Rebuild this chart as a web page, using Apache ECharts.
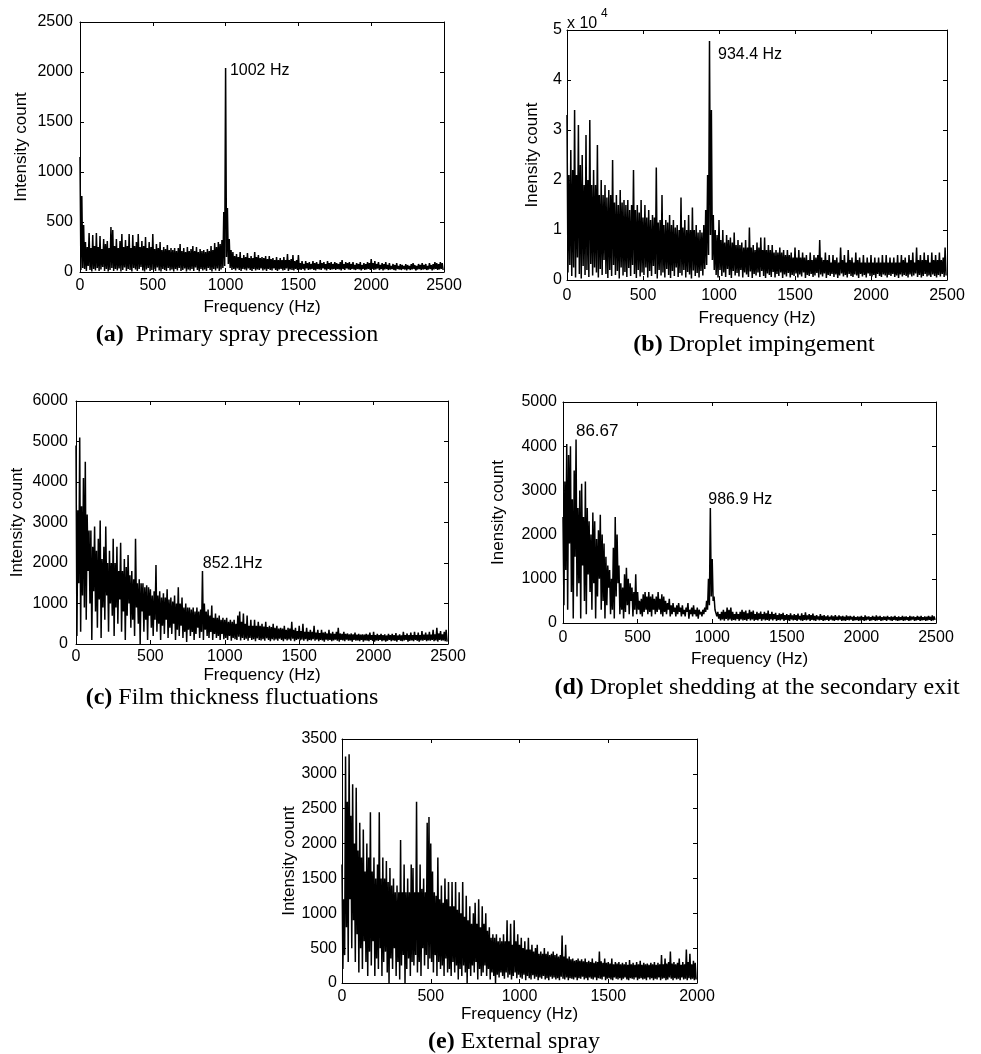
<!DOCTYPE html>
<html><head><meta charset="utf-8">
<script src="https://cdn.jsdelivr.net/npm/echarts@6/dist/echarts.min.js"></script>
<style>html,body{margin:0;padding:0;background:#fff}#c{width:981px;height:1054px}</style>
</head><body><div id="c"></div>
<script>
// ---- data: per-bin upper (hi) and lower (lo) intensity ----
const stepA = 12.5, stepB = 12.5, stepC = 12.5, stepD = 12.5, stepE = 10;
const xTicks2500 = [0, 500, 1000, 1500, 2000, 2500];
const xTicks2000 = [0, 500, 1000, 1500, 2000];

const aHi = [1150,760,470,300,250,390,240,370,260,390, 250,360,230,330,280,310,240,450,420,260, 330,240,310,380,250,320,260,380,240,370, 260,300,380,250,310,260,350,240,300,250, 380,230,280,240,300,220,250,230,270,220, 240,220,240,210,240,280,210,240,200,250, 210,230,260,210,250,200,230,210,220,200, 230,210,260,220,290,250,300,280,320,600, 2040,640,330,220,200,160,180,150,200,140, 170,150,190,140,160,140,200,150,170,140, 150,140,160,130,160,130,140,120,150,120, 140,120,150,120,180,120,130,170,110,120, 170,90,110,80,110,90,100,80,110,90, 100,80,120,90,100,80,110,90,100,80, 100,90,80,100,120,80,100,90,100,80, 100,70,90,80,100,70,90,80,100,90, 130,90,110,80,100,70,90,80,100,70, 90,60,80,70,90,60,80,70,60,80, 70,60,80,90,70,60,80,70,90,70, 80,60,90,70,80,100,90,80,100,90];
const aLo = [20,40,30,10,60,20,5,30,15,40, 10,25,50,10,30,5,20,40,10,30, 15,35,5,20,45,10,30,20,5,40, 25,10,30,50,15,5,25,40,10,20, 30,10,45,15,5,30,20,10,40,15, 25,5,30,15,40,10,20,35,5,25, 15,30,10,45,20,5,30,15,25,10, 40,20,5,30,15,35,10,25,40,60, 150,80,40,20,30,15,35,20,10,30, 25,15,35,20,10,30,15,25,20,35, 15,25,10,30,20,15,35,20,10,25, 30,15,20,35,10,25,20,15,30,20, 25,20,30,15,35,20,25,30,20,15, 30,25,20,35,25,15,30,20,25,30, 20,30,25,15,30,20,35,25,20,30, 25,20,30,25,15,30,20,25,30,20, 30,20,25,35,20,30,15,25,30,20, 25,30,20,15,30,25,20,30,25,15, 30,20,25,30,15,25,30,20,25,30, 20,25,30,15,25,30,20,25,30,20];

const bHi = [33000,21000,26000,22000,34000,21000,31000,23000, 25000,19000,29000,20000,32000,19000,22000,19000, 27000,17000,20000,17000,19000,16500,18000,17000, 24000,15500,17000,15000,18000,15500,16000,15000, 16000,14000,15000,22000,14000,15000,13500,16000, 12500,15000,12500,14000,12000,13000,12500,22500, 11500,12000,17000,11000,12000,11500,13000,11000, 12000,10500,11000,10000,16500,10500,12000,10000, 13000,10000,14500,10000,11000,9500,10000,9500, 11000,14000,21000,47800,34000,13000,10000,9000, 12000,8000,10000,7500,9000,8000,8500,7500, 9500,7000,8000,7000,7500,6500,8000,6500, 10500,6500,7000,6000,7500,6500,8500,6000, 8500,6000,7000,6000,7000,5500,6000,5500, 6500,5500,6000,5000,6000,5000,5500,4500, 6500,4500,6000,4500,5500,4500,5000,4000, 5500,4000,5000,4500,5000,8000,4500,4000, 5500,4000,5000,3500,5000,4000,4500,3500, 6500,4000,5000,3500,6000,4000,4500,3500, 5500,4000,4500,3500,5000,3500,4500,3500, 5000,3500,4500,3500,4500,3500,5000,3500, 5000,3500,4500,3500,4500,3500,5000,3500, 5000,4000,4500,3500,5000,4000,5500,3500, 6500,4000,5000,4000,5500,4000,5000,3500, 5500,4000,5000,4000,5500,4000,4500,6500];
const bLo = [1500,3000,800,2500,500,4500,1200,300,2800,1000, 2000,600,3200,900,2500,1500,500,2200,1000,4000, 1200,400,2000,800,3000,1000,1800,300,2500,900, 1600,600,2400,800,3000,1200,400,2000,700,1500, 1000,2500,500,1800,800,2800,1200,300,2000,900, 1500,500,2200,1000,400,1800,800,2500,600,1400, 900,2000,500,1600,1100,300,1900,800,1400,500, 1800,900,2200,3000,5000,9000,4000,2000,1000,500, 2000,800,1500,600,2200,1000,400,1800,900,1400, 700,2000,500,1500,1100,600,1700,400,1200,900, 1500,600,1800,800,400,1300,1000,600,1600,500, 1200,800,1500,400,1100,700,1400,500,1000,800, 1300,500,1100,700,1500,400,1000,800,1200,600, 900,1400,500,1100,700,1300,400,1000,800,1200, 600,1100,400,900,1300,700,1000,500,1200,800, 600,1100,900,400,1200,700,1000,500,1300,800, 700,1000,400,1200,800,600,1100,900,500,1000, 800,1200,600,900,400,1100,700,1000,800,500, 1100,700,900,1300,600,1000,500,800,1200,700, 900,600,1100,800,500,1000,700,1200,600,900];

const cHi = [4900,3300,5100,3400,4100,4500,3200,2800,2800,2400, 2900,2300,2600,3050,2100,2400,2900,2000,2300,2000, 2600,2000,2400,1800,2500,1800,2100,1900,2200,1700, 1800,1600,2600,1500,1600,1500,1500,1400,1450,1400, 1350,1200,1300,1950,1200,1300,1150,1250,1150,1350, 1100,1150,1050,1200,1000,1400,1000,1150,900,1000, 900,900,850,900,800,900,800,850,1800,1000, 800,850,700,950,650,750,650,700,600,650, 600,650,550,600,550,600,500,700,800,550, 750,500,700,450,600,450,600,450,550,450, 500,430,550,420,450,420,500,400,450,380, 400,380,450,350,400,380,550,350,400,320, 450,320,500,300,400,300,350,300,450,280, 350,270,350,280,300,260,350,260,300,250, 300,400,260,250,300,250,260,240,260,240, 280,230,250,230,240,230,250,230,280,220, 300,220,250,220,250,220,240,210,250,220, 250,220,270,210,240,210,300,220,260,220, 280,220,300,220,280,220,320,230,280,230, 300,230,350,240,400,260,320,240,300,350];
const cLo = [200,1500,300,1200,900,600,1800,1000,100,1300, 800,400,1100,150,900,600,1200,300,1000,700, 200,900,500,1100,300,800,100,700,1000,400, 600,200,900,500,0,800,300,600,100,700, 400,200,600,300,500,100,450,250,600,150, 400,250,500,100,350,200,450,150,300,50, 350,200,300,100,250,400,150,300,100,350, 200,150,300,100,250,150,200,100,250,120, 150,100,200,80,150,120,100,180,90,150, 100,130,80,150,100,120,70,140,100,90, 120,80,140,100,70,120,90,110,80,130, 100,70,120,90,110,80,130,70,100,120, 90,110,80,120,70,100,90,120,80,110, 70,100,90,60,110,80,100,70,90,110, 80,60,100,90,70,110,80,90,60,100, 80,90,70,100,60,90,80,70,100,80, 60,90,80,100,70,90,60,80,100,70, 90,80,60,100,80,70,90,100,60,80, 90,70,100,80,60,90,80,100,70,90, 80,100,70,90,60,100,80,90,70,60];

const dHi = [2400,3200,4050,3800,4000,2800,3450,4150,2600,3000, 3150,2400,3200,2600,2300,2000,2500,2300,1900,2100, 2450,2000,1800,1500,1300,1200,1000,1700,2400,2000, 1300,900,800,1100,1250,1000,900,800,700,1100, 700,500,550,650,700,600,700,600,650,550, 600,700,550,650,600,500,450,550,400,450, 350,400,450,350,400,300,350,450,300,350, 400,300,350,300,250,300,350,500,1000,2600, 1450,600,300,250,200,250,300,250,350,300, 350,250,200,250,200,250,300,250,280,220, 300,250,280,200,250,220,260,200,250,220, 280,200,250,200,230,180,220,200,230,180, 200,180,220,170,200,180,210,160,220,180, 240,170,200,180,210,160,180,150,200,160, 180,150,170,140,170,150,180,140,170,150, 160,140,170,150,160,140,160,130,150,140, 160,130,170,140,150,130,160,140,170,140, 160,130,150,140,160,130,150,140,160,130, 150,130,160,140,150,130,160,140,150,130, 160,140,160,130,150,140,160,140,170,150];
const dLo = [400,1200,300,1800,700,100,1500,600,900,100, 1300,500,200,1100,700,300,900,100,600,1000, 300,500,100,400,800,200,300,100,600,900, 200,300,100,250,400,200,500,150,300,200, 300,200,150,250,300,200,250,150,300,200, 250,300,200,150,250,200,300,150,200,250, 150,200,250,150,200,150,250,100,200,150, 200,150,100,200,150,200,250,300,400,600, 500,300,150,100,60,80,50,90,60,80, 50,70,60,90,50,80,60,70,50,90, 60,80,50,70,60,90,50,80,60,70, 50,80,60,90,50,70,60,80,50,70, 60,50,80,60,70,50,80,60,50,70, 60,80,50,70,60,50,80,60,70,50, 60,70,50,80,60,50,70,60,80,50, 60,50,70,60,80,50,60,70,50,60, 70,50,60,80,50,60,70,50,60,70, 50,60,70,50,80,60,50,70,60,50, 60,70,50,60,70,50,60,80,50,60, 70,50,60,70,50,60,70,50,60,70];

const eHi = [1700,1200,3250,2600,3280,2400,2850,2000,2800,1900, 2300,1800,2200,1600,2000,1800,2450,1600,1800,1500, 1700,2450,1500,1800,1500,1750,1450,1650,1400,1500, 1300,1400,1300,2050,1300,1700,1300,1500,1300,1700, 1650,1300,2600,1300,1700,1350,1500,1300,2300,2380, 2000,1600,1300,1250,1800,1200,1400,1150,1500,1200, 1450,1100,1450,1100,1450,1050,1300,1000,1450,950, 1250,900,1100,850,1000,1150,850,1200,800,1100, 850,1000,750,800,650,700,650,700,600,650, 600,700,600,900,600,850,550,900,600,700, 550,650,500,600,480,650,480,550,450,500, 550,420,450,420,500,420,450,400,420,450, 400,420,380,400,680,380,550,350,380,340, 350,320,330,350,320,340,310,350,300,320, 300,350,290,310,300,450,310,290,350,290, 300,280,350,270,300,280,300,270,290,270, 300,260,330,270,290,260,300,270,320,260, 290,270,280,260,290,270,300,260,290,270, 400,270,350,280,300,450,280,300,270,290, 350,260,300,270,480,300,420,270,320,290];
const eLo = [200,400,800,300,1200,500,900,300,700,150, 500,200,600,300,100,450,250,600,100,350, 200,500,100,300,450,150,0,350,200,500, 100,300,50,250,400,0,200,350,100,300, 250,400,150,300,100,500,250,400,200,350, 300,150,400,100,300,200,250,100,350,150, 200,100,300,150,250,50,200,100,250,150, 0,200,100,250,150,300,50,200,100,150, 250,100,200,50,150,100,0,120,80,150, 100,60,150,80,120,50,100,150,70,120, 80,60,120,40,100,70,50,110,60,90, 40,80,60,100,50,70,40,90,60,80, 50,70,40,90,60,50,80,40,70,60, 50,80,40,70,60,90,50,70,40,80, 60,50,80,40,70,60,50,90,40,60, 70,50,40,80,60,50,70,40,60,80, 50,40,70,60,50,80,40,60,70,50, 60,40,80,50,70,40,60,50,80,40, 60,70,40,50,80,60,40,70,50,60, 40,80,50,60,40,70,50,60,40,50];

const yTicksA = [0,500,1000,1500,2000,2500];
const yTicksB = [0,10000,20000,30000,40000,50000];
const yTicksC = [0,1000,2000,3000,4000,5000,6000];
const yTicksD = [0,1000,2000,3000,4000,5000];
const yTicksE = [0,500,1000,1500,2000,2500,3000,3500];

// ---- build series (zig-zag between each bin's upper and lower value) ----
function zig(hi, lo, step) {
  const out = [];
  for (let i = 0; i < hi.length; i++) {
    out.push([i * step, hi[i]]);
    out.push([i * step + step / 2, lo[i]]);
  }
  return out;
}

const SANS = '"Liberation Sans", Arial, Helvetica, sans-serif';
const SERIF = '"Liberation Serif", "Times New Roman", serif';
const TICK = 16, TITLE = 17, CAP = 24;

const panels = [
  {grid:{left:80, top:22, width:364, height:250}, xt:xTicks2500, yt:yTicksA, data:zig(aHi,aLo,stepA),
   yname:'Intensity count', ygap:50, xgap:27, ylabM:7, xlabM:6, fmt:null,
   notes:[{x:1002,y:2010,t:'1002 Hz',d:4}]},
  {grid:{left:567, top:30, width:380, height:250}, xt:xTicks2500, yt:yTicksB, data:zig(bHi,bLo,stepB),
   yname:'Inensity count', ygap:26, xgap:30, ylabM:5, xlabM:8, fmt:v=>String(v/10000),
   notes:[{x:934.4,y:45000,t:'934.4 Hz',d:9}]},
  {grid:{left:76, top:401, width:372, height:243}, xt:xTicks2500, yt:yTicksC, data:zig(cHi,cLo,stepC),
   yname:'Intensity count', ygap:50, xgap:23, ylabM:8, xlabM:5, fmt:null,
   notes:[{x:852.1,y:1975,t:'852.1Hz',d:0}]},
  {grid:{left:563, top:402, width:373, height:221}, xt:xTicks2500, yt:yTicksD, data:zig(dHi,dLo,stepD),
   yname:'Inensity count', ygap:56, xgap:28, ylabM:6, xlabM:7, fmt:null,
   notes:[{x:86.67,y:4344,t:'86.67',d:0,fs:17},{x:986.9,y:2783,t:'986.9 Hz',d:-2}]},
  {grid:{left:342, top:739, width:355, height:244}, xt:xTicks2000, yt:yTicksE, data:zig(eHi,eLo,stepE),
   yname:'Intensity count', ygap:44, xgap:22, ylabM:5, xlabM:6, fmt:null,
   notes:[]}
];

const grid = [], xAxis = [], yAxis = [], series = [];
panels.forEach((p, k) => {
  grid.push(Object.assign({show:false, containLabel:false}, p.grid));
  const xmax = p.xt[p.xt.length-1], xint = p.xt[1]-p.xt[0];
  const ymax = p.yt[p.yt.length-1], yint = p.yt[1]-p.yt[0];
  const line = {show:true, onZero:false, lineStyle:{color:'#000', width:1}};
  const tick = {show:true, inside:true, length:4, lineStyle:{color:'#000', width:1}};
  xAxis.push({gridIndex:k, type:'value', min:0, max:xmax, interval:xint, position:'bottom',
    axisLine:line, axisTick:tick, splitLine:{show:false},
    axisLabel:{color:'#000', fontSize:TICK, fontFamily:SANS, margin:p.xlabM, formatter:v=>String(v)},
    name:'Frequency (Hz)', nameLocation:'middle', nameGap:p.xgap,
    nameTextStyle:{color:'#000', fontSize:TITLE, fontFamily:SANS, verticalAlign:'top'}});
  xAxis.push({gridIndex:k, type:'value', min:0, max:xmax, interval:xint, position:'top',
    axisLine:line, axisTick:tick, splitLine:{show:false}, axisLabel:{show:false}});
  yAxis.push({gridIndex:k, type:'value', min:0, max:ymax, interval:yint, position:'left',
    axisLine:line, axisTick:tick, splitLine:{show:false},
    axisLabel:{color:'#000', fontSize:TICK, fontFamily:SANS, margin:p.ylabM, formatter:p.fmt || (v=>String(v))},
    name:p.yname, nameLocation:'middle', nameGap:p.ygap, nameRotate:90,
    nameTextStyle:{color:'#000', fontSize:TITLE, fontFamily:SANS}});
  yAxis.push({gridIndex:k, type:'value', min:0, max:ymax, interval:yint, position:'right',
    axisLine:line, axisTick:tick, splitLine:{show:false}, axisLabel:{show:false}});
  series.push({type:'line', xAxisIndex:2*k, yAxisIndex:2*k, data:p.data, symbol:'none',
    lineStyle:{color:'#000', width:1.5}, silent:true, animation:false, clip:true});
});

function cap(x, y, tag, txt) {
  return {type:'text', x:x, y:y, silent:true,
    style:{text:'{b|' + tag + '}' + txt, align:'center', verticalAlign:'middle',
      fill:'#000', fontSize:CAP, fontFamily:SERIF,
      rich:{b:{fontWeight:'bold', fontSize:CAP, fontFamily:SERIF, fill:'#000'}}}};
}

const graphic = [
  cap(237, 335, '(a)', '  Primary spray precession'),
  cap(754, 345, '(b)', ' Droplet impingement'),
  cap(232, 698, '(c)', ' Film thickness fluctuations'),
  cap(757, 688, '(d)', ' Droplet shedding at the secondary exit'),
  cap(514, 1042, '(e)', ' External spray'),
  {type:'text', x:567, y:24, silent:true, style:{text:'x 10', fill:'#000', fontSize:16, fontFamily:SANS, align:'left', verticalAlign:'middle'}},
  {type:'text', x:601, y:14, silent:true, style:{text:'4', fill:'#000', fontSize:12, fontFamily:SANS, align:'left', verticalAlign:'middle'}}
];

const chart = echarts.init(document.getElementById('c'), null, {renderer:'canvas'});
chart.setOption({animation:false, backgroundColor:'#fff', grid, xAxis, yAxis, series, graphic});

// peak annotations placed through the chart's own scales
const notes = [];
panels.forEach((p, k) => {
  p.notes.forEach(n => {
    const px = chart.convertToPixel({xAxisIndex:2*k, yAxisIndex:2*k}, [n.x, n.y]);
    notes.push({type:'text', x:px[0] + n.d, y:px[1], silent:true,
      style:{text:n.t, fill:'#000', fontSize:n.fs || TICK, fontFamily:SANS, align:'left', verticalAlign:'middle'}});
  });
});
chart.setOption({graphic: graphic.concat(notes)});
</script>
</body></html>
